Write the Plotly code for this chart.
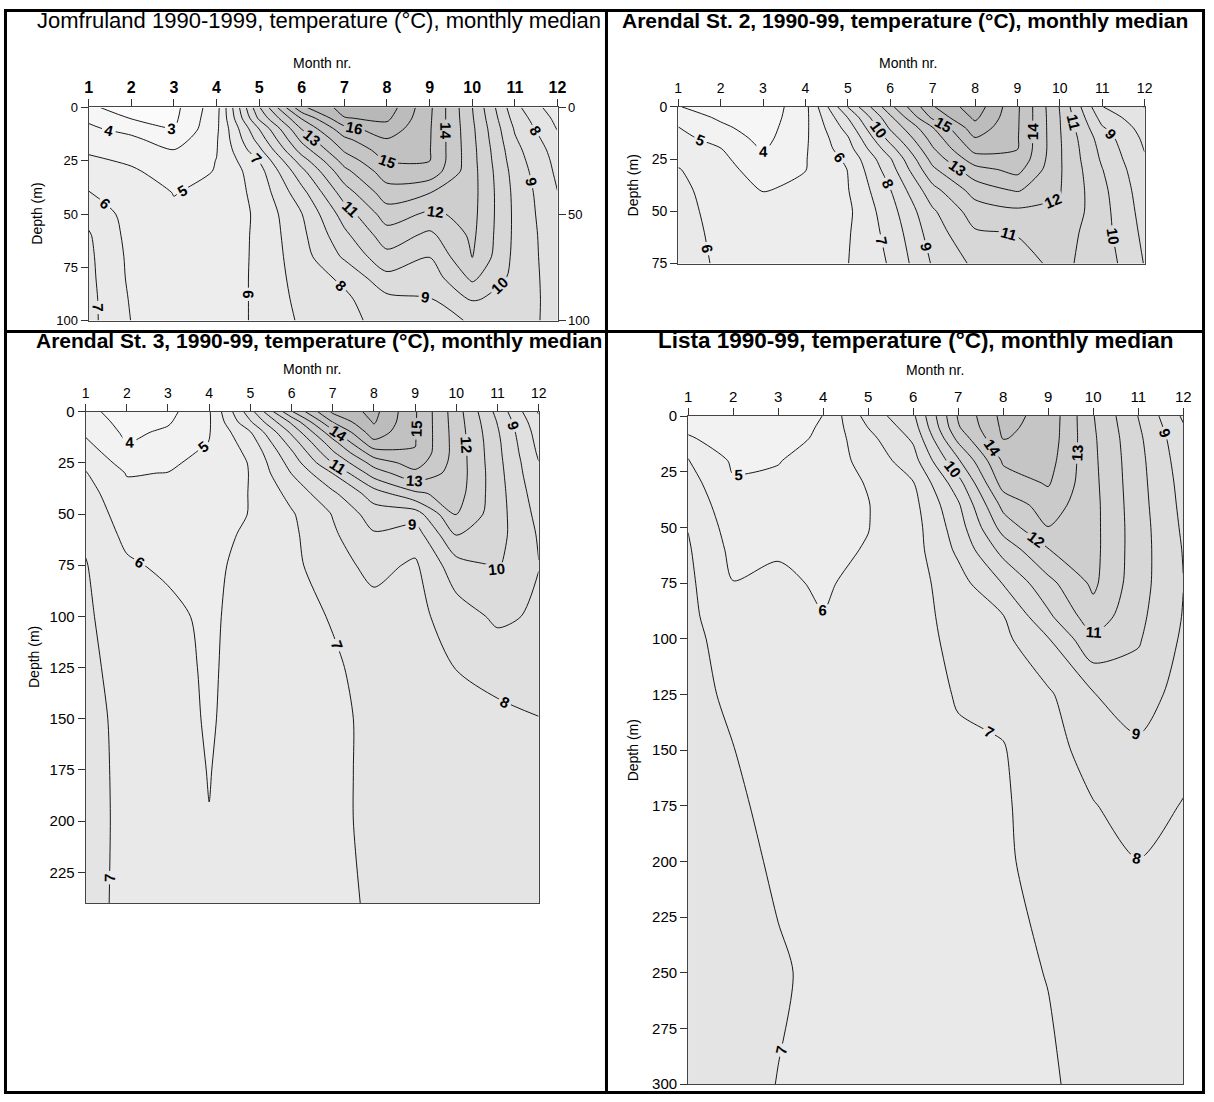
import plotly.graph_objects as go

W, H = 1214, 1102
FONT = "Liberation Sans, Arial, Helvetica, sans-serif"

MONTHS = [1, 2, 3, 4, 5, 6, 7, 8, 9, 10, 11, 12]
MONTH_LABELS = ["1", "2", "3", "4", "5", "6", "7", "8", "9", "10", "11", "12"]

# ---------------- Jomfruland ----------------
JOM_TITLE = "Jomfruland 1990-1999, temperature (°C), monthly median"
JOM_DEPTHS = [0, 5, 10, 15, 20, 25, 30, 40, 50, 60, 70, 80, 90, 100]
JOM_DEPTH_TICKS = [0, 25, 50, 75, 100]
JOM_RIGHT_TICKS = [0, 50, 100]
JOM_TEMP = [  # one profile per month (values at JOM_DEPTHS)
    [3.15, 3.85, 4.15, 4.4, 4.85, 5.2, 5.45, 6.05, 6.7, 7.1, 7.2, 7.25, 7.3, 7.3],
    [2.6, 2.95, 3.7, 4.2, 4.5, 4.85, 5.15, 5.4, 5.6, 5.65, 5.75, 5.8, 5.9, 5.98],
    [2.7, 2.8, 2.95, 3.5, 4.02, 4.3, 4.55, 4.98, 5.1, 5.15, 5.2, 5.25, 5.3, 5.35],
    [4.6, 4.7, 4.8, 4.9, 4.95, 5.02, 5.05, 5.15, 5.2, 5.3, 5.35, 5.4, 5.4, 5.4],
    [10.9, 10.2, 9.02, 8.4, 7.75, 7.03, 6.6, 6.35, 6.2, 6.2, 6.2, 6.2, 6.2, 6.2],
    [15.8, 14.1, 13.05, 12.25, 11.45, 10.5, 9.7, 8.65, 7.97, 7.75, 7.6, 7.45, 7.3, 7.15],
    [17.4, 16.95, 15.65, 14.8, 14.13, 13.4, 12.7, 11.5, 10.45, 9.75, 9.15, 8.2, 7.8, 7.6],
    [17.6, 17.2, 16.6, 15.95, 15.5, 15.05, 14.55, 13.55, 12.5, 11.55, 10.7, 9.7, 8.75, 8.5],
    [15.2, 15.15, 15.1, 15.08, 15.05, 15.02, 14.67, 13.02, 11.82, 10.77, 10.02, 9.41, 8.95, 8.8],
    [12.02, 12.1, 12.2, 12.25, 12.3, 12.32, 12.35, 12.35, 12.3, 12.2, 12.03, 11.2, 10.1, 9.05],
    [8.3, 8.6, 8.9, 9.1, 9.3, 9.45, 9.6, 9.75, 9.8, 9.8, 9.75, 9.7, 9.6, 9.5],
    [6.3, 6.7, 6.95, 7.3, 7.55, 7.7, 7.8, 8.02, 8.15, 8.3, 8.4, 8.5, 8.6, 8.65],
]

# ---------------- Arendal St. 2 ----------------
ST2_TITLE = "Arendal St. 2, 1990-99, temperature (°C), monthly median"
ST2_DEPTHS = [0, 5, 10, 15, 20, 25, 30, 40, 50, 60, 75]
ST2_DEPTH_TICKS = [0, 25, 50, 75]
ST2_TEMP = [
    [4.05, 4.55, 5.05, 5.3, 5.5, 5.8, 6.05, 6.25, 6.35, 6.4, 6.45],
    [3.5, 3.85, 4.2, 4.6, 5.03, 5.25, 5.4, 5.55, 5.65, 5.75, 5.85],
    [3.3, 3.4, 3.55, 3.7, 3.9, 4.2, 4.5, 4.97, 5.3, 5.4, 5.5],
    [4.7, 4.75, 4.8, 4.85, 4.9, 4.95, 4.98, 5.15, 5.2, 5.3, 5.4],
    [9.03, 8.03, 7.4, 6.9, 6.6, 6.2, 6.02, 5.95, 5.8, 5.9, 5.98],
    [12.7, 11.8, 11.15, 10.4, 9.6, 8.9, 8.55, 7.95, 7.6, 7.35, 7.1],
    [15.9, 15.2, 13.95, 13.4, 12.9, 12.35, 11.8, 10.65, 9.85, 9.5, 9.1],
    [17.6, 17.2, 16.6, 15.95, 15.35, 14.55, 13.65, 12.4, 11.5, 10.9, 10.2],
    [15.15, 15.12, 15.1, 15.07, 15.03, 14.8, 14.3, 13.1, 11.8, 11.05, 10.7],
    [11.95, 12.02, 12.05, 12.08, 12.1, 12.1, 12.1, 12.05, 11.9, 11.5, 11.2],
    [8.03, 8.6, 9.1, 9.5, 9.7, 9.85, 10.03, 10.25, 10.35, 10.4, 10.6],
    [6.97, 7.3, 7.6, 7.8, 7.95, 8.1, 8.25, 8.45, 8.6, 8.75, 8.95],
]

# ---------------- Arendal St. 3 ----------------
ST3_TITLE = "Arendal St. 3, 1990-99, temperature (°C), monthly median"
ST3_DEPTHS = [0, 5, 10, 15, 20, 25, 30, 40, 50, 60, 75, 100, 125, 150, 175, 200, 240]
ST3_DEPTH_TICKS = [0, 25, 50, 75, 100, 125, 150, 175, 200, 225]
ST3_TEMP = [
    [4.3, 4.55, 4.85, 5.15, 5.45, 5.8, 6.05, 6.4, 6.65, 6.85, 7.05, 7.15, 7.25, 7.35, 7.35, 7.3, 7.2],
    [3.5, 3.65, 3.8, 3.98, 4.3, 4.6, 4.95, 5.25, 5.5, 5.75, 6.15, 6.45, 6.6, 6.7, 6.75, 6.8, 6.85],
    [3.7, 3.9, 4.15, 4.4, 4.6, 4.8, 5.02, 5.25, 5.45, 5.6, 5.8, 6.3, 6.5, 6.6, 6.65, 6.7, 6.7],
    [4.9, 4.9, 4.95, 5.02, 5.2, 5.4, 5.6, 5.7, 5.75, 5.7, 5.7, 5.75, 5.8, 5.85, 5.95, 6.03, 6.1],
    [8.6, 7.9, 6.95, 6.5, 6.2, 6.05, 6.02, 6.02, 6.02, 6.15, 6.4, 6.6, 6.65, 6.7, 6.75, 6.75, 6.75],
    [12.9, 11.2, 10.2, 9.45, 8.85, 8.4, 8.03, 7.3, 6.9, 6.8, 6.75, 6.75, 6.75, 6.8, 6.85, 6.85, 6.85],
    [16.2, 15.03, 13.7, 12.65, 11.85, 11.03, 10.03, 8.8, 8.05, 7.85, 7.6, 7.05, 6.9, 6.9, 6.95, 6.95, 6.9],
    [17.3, 17.1, 16.6, 15.75, 14.55, 13.4, 12.5, 10.5, 9.5, 8.9, 8.3, 7.6, 7.25, 7.1, 7.05, 7.05, 7.05],
    [15.1, 15.08, 15.06, 15.04, 14.95, 14.45, 13.75, 11.8, 9.5, 8.5, 7.85, 7.7, 7.55, 7.5, 7.45, 7.45, 7.45],
    [12.45, 12.5, 12.55, 12.58, 12.6, 12.6, 12.6, 12.45, 12.1, 11.03, 9.6, 8.5, 8.02, 7.7, 7.6, 7.55, 7.5],
    [9.7, 9.95, 10.1, 10.2, 10.25, 10.3, 10.35, 10.4, 10.4, 10.35, 10.1, 9.2, 8.3, 7.8, 7.65, 7.6, 7.55],
    [6.9, 7.3, 7.55, 7.7, 7.85, 8.03, 8.15, 8.45, 8.7, 8.9, 9.02, 8.85, 8.4, 7.98, 7.85, 7.75, 7.7],
]

# ---------------- Lista ----------------
LISTA_TITLE = "Lista 1990-99, temperature (°C), monthly median"
LISTA_DEPTHS = [0, 5, 10, 20, 30, 40, 50, 60, 75, 90, 100, 125, 150, 175, 200, 250, 300]
LISTA_DEPTH_TICKS = [0, 25, 50, 75, 100, 125, 150, 175, 200, 225, 250, 275, 300]
LISTA_TEMP = [
    [4.6, 4.8, 5.1, 6.1, 6.4, 6.7, 6.97, 7.1, 7.2, 7.25, 7.3, 7.35, 7.35, 7.35, 7.35, 7.35, 7.35],
    [4.3, 4.4, 4.55, 4.85, 5.1, 5.35, 5.55, 5.75, 6.02, 6.3, 6.55, 6.8, 7.02, 7.15, 7.25, 7.3, 7.3],
    [4.2, 4.3, 4.45, 4.95, 5.2, 5.45, 5.65, 5.92, 6.15, 6.3, 6.4, 6.55, 6.65, 6.75, 6.88, 7.1, 6.98],
    [5.02, 5.15, 5.25, 5.5, 5.6, 5.7, 5.75, 5.8, 5.9, 6.02, 6.2, 6.4, 6.55, 6.65, 6.75, 6.8, 6.8],
    [7.4, 7.02, 6.7, 6.3, 6.05, 5.97, 5.98, 6.05, 6.25, 6.45, 6.55, 6.6, 6.65, 6.7, 6.7, 6.75, 6.75],
    [8.8, 8.5, 8.15, 7.6, 6.95, 6.7, 6.6, 6.6, 6.6, 6.65, 6.65, 6.7, 6.7, 6.7, 6.7, 6.75, 6.75],
    [13.1, 12.9, 12.3, 10.85, 9.6, 8.85, 8.5, 8.2, 7.6, 7.35, 7.25, 7.05, 6.9, 6.85, 6.85, 6.8, 6.8],
    [15.3, 15.2, 15.05, 14.15, 13.45, 12.3, 11.4, 10.35, 9.05, 7.95, 7.75, 7.25, 6.95, 6.9, 6.9, 6.85, 6.85],
    [14.7, 14.65, 14.6, 14.4, 14.1, 13.5, 12.98, 11.98, 10.7, 9.8, 8.95, 7.85, 7.6, 7.4, 7.25, 7.02, 6.9],
    [12.05, 12.1, 12.15, 12.2, 12.25, 12.3, 12.3, 12.3, 12.2, 11.6, 10.8, 8.95, 8.4, 7.95, 7.7, 7.4, 7.25],
    [9.98, 10.1, 10.2, 10.3, 10.35, 10.4, 10.45, 10.45, 10.4, 10.25, 10.1, 9.5, 8.8, 8.4, 7.98, 7.75, 7.6],
    [7.85, 8.1, 8.3, 8.5, 8.65, 8.75, 8.85, 8.95, 9.02, 8.95, 8.85, 8.6, 8.3, 7.95, 7.85, 7.8, 7.75],
]

GRAYS = [[0.0, "rgb(255,255,255)"], [1.0, "rgb(184,184,184)"]]


def rows(by_month):
    return [list(r) for r in zip(*by_month)]


def fx(px):
    return px / W


def fy(py):
    return 1 - py / H


# panel geometry in pixels: plot left, right, top, bottom
PANELS = [
    dict(sfx="", depths=JOM_DEPTHS, temp=JOM_TEMP, dmax=100, yt=JOM_DEPTH_TICKS,
         box=(85.5, 559.5, 100.0, 316.5), xfs=16, xbold=True, yfs=13,
         title=JOM_TITLE, tbold=False, tfs=22, tx=318, ty=12, mx=321, my=55, dx=33),
    dict(sfx="2", depths=ST2_DEPTHS, temp=ST2_TEMP, dmax=75, yt=ST2_DEPTH_TICKS,
         box=(681.5, 1153.0, 99.5, 258.5), xfs=14, xbold=False, yfs=14,
         title=ST2_TITLE, tbold=True, tfs=21, tx=911, ty=12, mx=914, my=55, dx=636),
    dict(sfx="3", depths=ST3_DEPTHS, temp=ST3_TEMP, dmax=240, yt=ST3_DEPTH_TICKS,
         box=(82.5, 540.5, 409.0, 908.0), xfs=14, xbold=False, yfs=15,
         title=ST3_TITLE, tbold=True, tfs=21, tx=318, ty=337, mx=311, my=366, dx=31),
    dict(sfx="4", depths=LISTA_DEPTHS, temp=LISTA_TEMP, dmax=300, yt=LISTA_DEPTH_TICKS,
         box=(691.5, 1192.0, 413.5, 1092.0), xfs=15, xbold=False, yfs=15,
         title=LISTA_TITLE, tbold=True, tfs=22.5, tx=921, ty=337, mx=941, my=367, dx=636),
]

fig = go.Figure()
layout = dict(
    width=W, height=H, margin=dict(l=0, r=0, t=0, b=0),
    paper_bgcolor="white", plot_bgcolor="white", showlegend=False,
    font=dict(family=FONT, color="black"),
)
annotations = []

for p in PANELS:
    s = p["sfx"]
    x0, x1, y0, y1 = p["box"]
    fig.add_trace(go.Contour(
        x=MONTHS, y=p["depths"], z=rows(p["temp"]),
        xaxis="x" + s, yaxis="y" + s,
        colorscale=GRAYS, showscale=False,
        contours=dict(start=2, end=17, size=1, coloring="fill", showlabels=True,
                      labelfont=dict(size=15, color="black", family=FONT, weight="bold")),
        line=dict(color="black", width=0.9, smoothing=0.8),
        hoverinfo="skip",
    ))
    layout["xaxis" + s] = dict(
        domain=[fx(x0), fx(x1)], range=[1, 12], side="top", anchor="y" + s,
        tickmode="array", tickvals=MONTHS, ticktext=MONTH_LABELS,
        ticks="outside", ticklen=7, tickwidth=1, tickcolor="#333",
        showline=True, linecolor="#444", linewidth=1, mirror=True,
        showgrid=False, zeroline=False, fixedrange=True,
        tickfont=dict(size=p["xfs"], color="black", family=FONT,
                      weight="bold" if p["xbold"] else "normal"),
    )
    layout["yaxis" + s] = dict(
        domain=[fy(y1), fy(y0)], range=[p["dmax"], 0], anchor="x" + s,
        tickmode="array", tickvals=p["yt"],
        ticks="outside", ticklen=7, tickwidth=1, tickcolor="#333",
        showline=True, linecolor="#444", linewidth=1, mirror=True,
        showgrid=False, zeroline=False, fixedrange=True,
        tickfont=dict(size=p["yfs"], color="black", family=FONT),
    )
    annotations.append(dict(
        text=p["title"], x=fx(p["tx"]), y=fy(p["ty"]), xref="paper", yref="paper",
        xanchor="center", yanchor="middle", showarrow=False,
        font=dict(size=p["tfs"], family=FONT, color="black",
                  weight="bold" if p["tbold"] else "normal"),
    ))
    annotations.append(dict(
        text="Month nr.", x=fx(p["mx"]), y=fy(p["my"]), xref="paper", yref="paper",
        xanchor="center", yanchor="middle", showarrow=False,
        font=dict(size=14, family=FONT, color="black"),
    ))
    annotations.append(dict(
        text="Depth (m)", x=fx(p["dx"]), y=fy((y0 + y1) / 2), xref="paper", yref="paper",
        xanchor="center", yanchor="middle", showarrow=False, textangle=-90,
        font=dict(size=14, family=FONT, color="black"),
    ))

# right-hand depth axis of the Jomfruland panel
fig.add_trace(go.Scatter(x=[], y=[], xaxis="x", yaxis="y5", hoverinfo="skip"))
layout["yaxis5"] = dict(
    overlaying="y", side="right", anchor="x", range=[100, 0],
    tickmode="array", tickvals=JOM_RIGHT_TICKS,
    ticks="outside", ticklen=7, tickwidth=1, tickcolor="#333",
    showline=False, showgrid=False, zeroline=False, fixedrange=True,
    tickfont=dict(size=13, color="black", family=FONT),
)

layout["annotations"] = annotations
layout["shapes"] = [
    dict(type="rect", xref="paper", yref="paper", x0=fx(1.5), x1=fx(1212.5),
         y0=fy(1100.5), y1=fy(1.5), line=dict(color="black", width=3)),
    dict(type="line", xref="paper", yref="paper", x0=fx(609), x1=fx(609),
         y0=0, y1=1, line=dict(color="black", width=3)),
    dict(type="line", xref="paper", yref="paper", x0=0, x1=1,
         y0=fy(327.5), y1=fy(327.5), line=dict(color="black", width=3)),
]

fig.update_layout(**layout)
fig.write_html("out.html", include_plotlyjs=True, config={"displayModeBar": False})
